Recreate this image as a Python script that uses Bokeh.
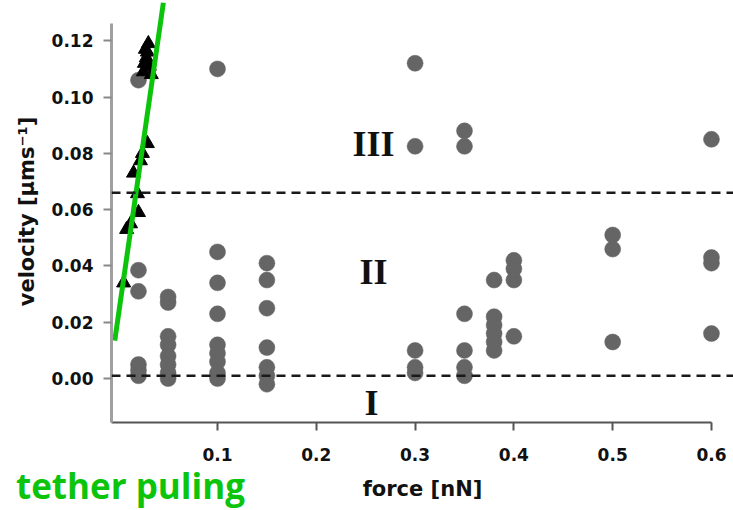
from bokeh.plotting import figure
from bokeh.models import Span, FixedTicker, NumeralTickFormatter, Range1d, ColumnDataSource, LinearAxis
from bokeh.core.properties import value
from bokeh.embed import file_html
from bokeh.resources import INLINE

# ---- data (force in nN, velocity in µm/s) ----
circle_force = [0.02, 0.02, 0.02, 0.02, 0.02, 0.02,
                0.05, 0.05, 0.05, 0.05, 0.05, 0.05, 0.05, 0.05,
                0.10, 0.10, 0.10, 0.10, 0.10, 0.10, 0.10, 0.10, 0.10,
                0.15, 0.15, 0.15, 0.15, 0.15, 0.15, 0.15,
                0.30, 0.30, 0.30, 0.30, 0.30,
                0.35, 0.35, 0.35, 0.35, 0.35, 0.35,
                0.38, 0.38, 0.38, 0.38, 0.38, 0.38,
                0.40, 0.40, 0.40, 0.40,
                0.50, 0.50, 0.50,
                0.60, 0.60, 0.60, 0.60]
circle_velocity = [0.106, 0.0385, 0.031, 0.005, 0.003, 0.001,
                   0.029, 0.027, 0.015, 0.012, 0.008, 0.005, 0.002, 0.000,
                   0.110, 0.045, 0.034, 0.023, 0.012, 0.009, 0.006, 0.002, 0.000,
                   0.041, 0.035, 0.025, 0.011, 0.004, 0.001, -0.002,
                   0.112, 0.0825, 0.010, 0.004, 0.002,
                   0.088, 0.0825, 0.023, 0.010, 0.004, 0.001,
                   0.035, 0.022, 0.019, 0.016, 0.013, 0.010,
                   0.042, 0.039, 0.035, 0.015,
                   0.051, 0.046, 0.013,
                   0.085, 0.043, 0.041, 0.016]

triangle_force = [0.030, 0.029, 0.028, 0.026, 0.031, 0.025, 0.033, 0.027,
                  0.029, 0.024, 0.022, 0.015, 0.019,
                  0.020, 0.012, 0.008, 0.005]
triangle_velocity = [0.119, 0.116, 0.114, 0.112, 0.111, 0.109, 0.108, 0.117,
                     0.0835, 0.080, 0.0774, 0.073, 0.0657,
                     0.059, 0.055, 0.053, 0.034]

tether_force = [-0.004, 0.0452]
tether_velocity = [0.0135, 0.1335]
tether_label = "tether puling"
tether_label_force = 0.0119

boundary_velocity = [0.066, 0.001]

region_labels = ["III", "II", "I"]
region_force = [0.258, 0.258, 0.256]
region_velocity = [0.0835, 0.0377, -0.0085]

x_ticks = [0.1, 0.2, 0.3, 0.4, 0.5, 0.6]
y_ticks = [0.0, 0.02, 0.04, 0.06, 0.08, 0.10, 0.12]

GREEN = "#0cc40c"

p = figure(width=733, height=510, output_backend="svg", toolbar_location=None,
           x_range=Range1d(-0.0073, 0.6223), y_range=Range1d(-0.0156, 0.1343),
           min_border_left=111, min_border_right=0, min_border_top=0, min_border_bottom=88)
p.outline_line_color = None
p.grid.visible = False
p.background_fill_color = "white"

xa = p.xaxis[0]
ya = p.yaxis[0]
for ax in (xa, ya):
    ax.major_tick_in = 0
    ax.major_tick_out = 8
    ax.minor_tick_line_color = None
    ax.major_label_text_font = "DejaVu Sans"
    ax.major_label_text_font_style = "bold"
    ax.major_label_text_font_size = "17px"
    ax.major_label_text_color = "#111111"
    ax.axis_label_text_font = "DejaVu Sans"
    ax.axis_label_text_font_style = "bold"
    ax.axis_label_text_font_size = "21px"
    ax.axis_label_text_color = "#111111"

xa.ticker = FixedTicker(ticks=x_ticks)
xa.formatter = NumeralTickFormatter(format="0.0")
xa.bounds = (-0.0073, 0.6)
xa.axis_line_color = "#555555"
xa.axis_line_width = 2
xa.major_tick_line_color = "#555555"
xa.major_tick_line_width = 2
xa.major_label_standoff = 17

ya.ticker = FixedTicker(ticks=y_ticks)
ya.formatter = NumeralTickFormatter(format="0.00")
ya.bounds = (-0.0156, 0.126)
ya.axis_line_color = "#a0a0a0"
ya.axis_line_width = 3
ya.major_tick_line_color = "#888888"
ya.major_tick_line_width = 2
ya.major_label_standoff = 10
ya.axis_label = "velocity [µms⁻¹]"
ya.axis_label_standoff = 10

# second row below the x axis: green annotation as a tick label, and the
# x-axis title pulled up (negative standoff) into the same row
note_axis = LinearAxis(ticker=FixedTicker(ticks=[tether_label_force]),
                       major_label_overrides={tether_label_force: tether_label},
                       axis_line_color=None, major_tick_line_color=None, minor_tick_line_color=None,
                       major_tick_in=0, major_tick_out=0, major_label_standoff=-2,
                       major_label_text_font="Open Sans", major_label_text_font_style="bold",
                       major_label_text_font_size="35px", major_label_text_color=GREEN,
                       axis_label="force [nN]", axis_label_standoff=-35,
                       axis_label_text_font="DejaVu Sans", axis_label_text_font_style="bold",
                       axis_label_text_font_size="21px", axis_label_text_color="#111111")
p.add_layout(note_axis, "below")

# regime boundaries
for v in boundary_velocity:
    p.add_layout(Span(location=v, dimension="width", line_color="#1a1a1a",
                      line_width=2.5, line_dash="9 6"))

# data
p.scatter(circle_force, circle_velocity, marker="circle", size=16,
          fill_color="#656565", line_color="#656565", line_width=0.5)
p.scatter(triangle_force, triangle_velocity, marker="triangle", size=14,
          fill_color="black", line_color="black")

# regime labels
src = ColumnDataSource(dict(x=region_force, y=region_velocity, t=region_labels))
p.text(x="x", y="y", text="t", source=src, text_align="center", text_baseline="middle",
       text_font=value("Liberation Serif"), text_font_style="bold",
       text_font_size="36px", text_color="#111111")

# tether pulling guide
p.line(tether_force, tether_velocity, line_color=GREEN, line_width=5)

open("out.html", "w").write(file_html(p, INLINE))
